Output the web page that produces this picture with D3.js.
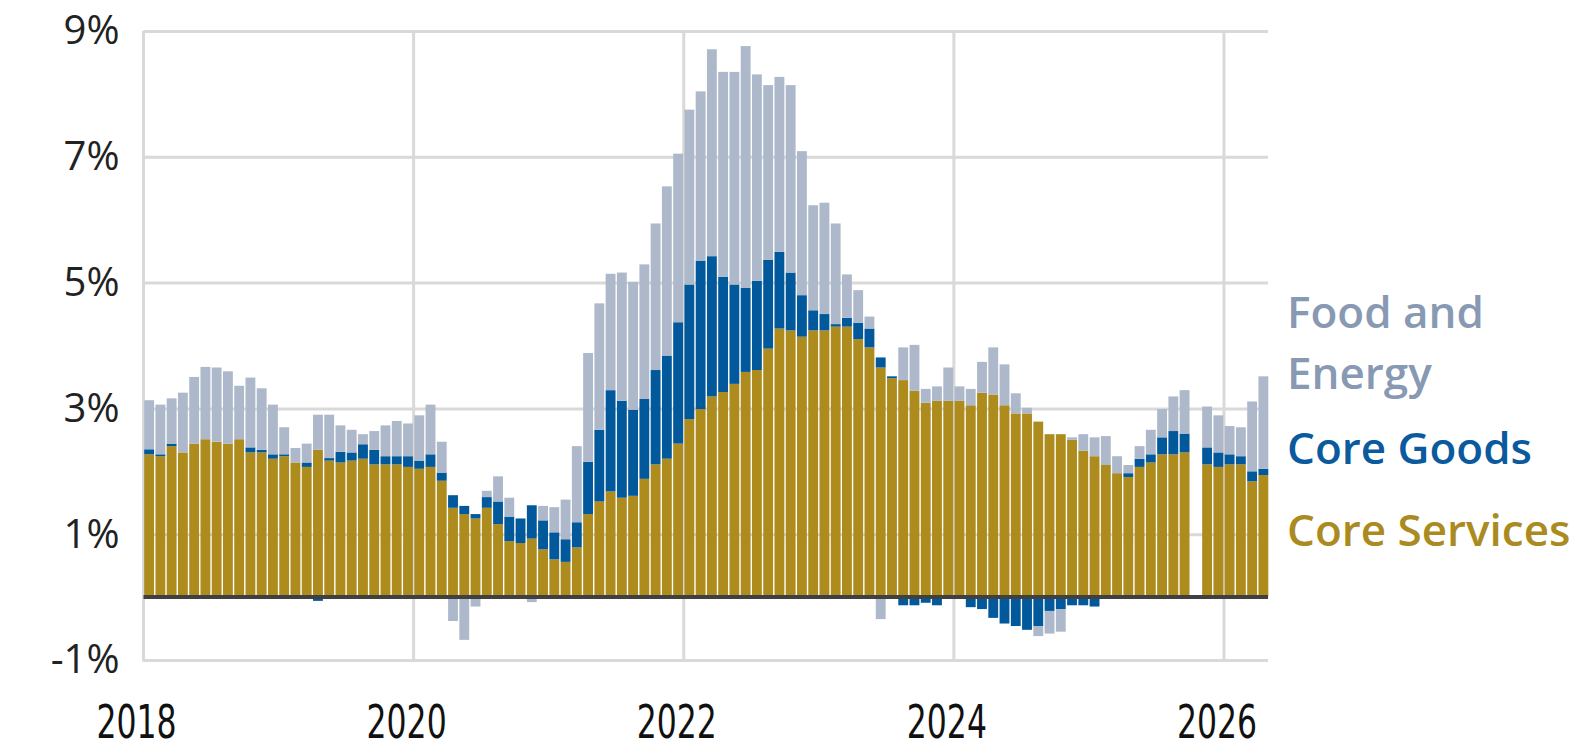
<!DOCTYPE html>
<html>
<head>
<meta charset="utf-8">
<script src="https://cdn.jsdelivr.net/npm/d3@7"></script>
<style>
  body { margin: 0; background: #fff; }
  svg { display: block; }
</style>
</head>
<body>
<div id="chart"></div>
<script>
// Contributions to y/y inflation, monthly from Jan 2018 (percentage points)
// Oct 2025 has no reading, so it is left empty
const services = [
  2.27, 2.24, 2.40, 2.30, 2.44, 2.51, 2.47, 2.44, 2.51, 2.30, 2.30, 2.20,
  2.24, 2.14, 2.07, 2.34, 2.17, 2.14, 2.17, 2.20, 2.11, 2.11, 2.11, 2.07,
  2.04, 2.07, 1.85, 1.42, 1.32, 1.25, 1.42, 1.16, 0.89, 0.86, 0.93, 0.76,
  0.60, 0.56, 0.79, 1.32, 1.52, 1.68, 1.58, 1.61, 1.88, 2.11, 2.20, 2.44,
  2.83, 2.99, 3.19, 3.26, 3.39, 3.58, 3.61, 3.95, 4.27, 4.24, 4.14, 4.24,
  4.24, 4.30, 4.30, 4.10, 3.97, 3.65, 3.48, 3.45, 3.28, 3.09, 3.12, 3.12,
  3.12, 3.05, 3.25, 3.22, 3.05, 2.92, 2.92, 2.79, 2.59, 2.59, 2.50, 2.33,
  2.24, 2.10, 1.97, 1.91, 2.07, 2.14, 2.27, 2.27, 2.30, null, 2.11, 2.07,
  2.11, 2.11, 1.84, 1.94
];
const goods = [
  0.08, 0.03, 0.04, 0, 0, 0, 0, 0, 0, 0.08, 0.04, 0.07,
  0.03, 0, 0.07, -0.06, 0.04, 0.17, 0.13, 0.23, 0.23, 0.13, 0.13, 0.17,
  0.13, 0.20, 0.13, 0.20, 0.13, 0.07, 0.17, 0.36, 0.39, 0.39, 0.53, 0.46,
  0.43, 0.36, 0.40, 0.83, 1.14, 1.61, 1.54, 1.37, 1.27, 1.50, 1.64, 1.93,
  2.14, 2.36, 2.23, 1.83, 1.58, 1.34, 1.42, 1.41, 1.22, 0.92, 0.66, 0.32,
  0.26, 0.04, 0.14, 0.26, 0.30, 0.16, 0.03, -0.13, -0.13, -0.09, -0.13, 0,
  0, -0.16, -0.19, -0.33, -0.42, -0.46, -0.52, -0.46, -0.22, -0.19, -0.13, -0.13,
  -0.15, 0, 0, 0.06, 0.13, 0.13, 0.27, 0.37, 0.30, null, 0.27, 0.23,
  0.16, 0.13, 0.16, 0.10
];
const foodEnergy = [
  0.78, 0.79, 0.72, 0.95, 1.06, 1.15, 1.18, 1.15, 0.85, 1.11, 0.98, 0.79,
  0.43, 0.23, 0.30, 0.56, 0.69, 0.42, 0.36, 0.16, 0.30, 0.49, 0.56, 0.52,
  0.72, 0.79, 0.49, -0.38, -0.68, -0.15, 0.10, 0.40, 0.30, 0, -0.08, 0.23,
  0.40, 0.63, 1.21, 1.73, 2.01, 1.85, 2.04, 2.03, 2.14, 2.33, 2.69, 2.68,
  2.78, 2.69, 3.29, 3.26, 3.38, 3.84, 3.28, 2.78, 2.78, 2.98, 2.29, 1.67,
  1.77, 1.60, 0.69, 0.52, 0.19, -0.35, 0, 0.52, 0.73, 0.22, 0.23, 0.53,
  0.23, 0.26, 0.49, 0.75, 0.65, 0.32, 0.09, -0.16, -0.36, -0.36, 0.04, 0.26,
  0.30, 0.46, 0.27, 0.13, 0.20, 0.39, 0.45, 0.55, 0.69, null, 0.65, 0.59,
  0.45, 0.46, 1.11, 1.47
];

const yTicks = [-1, 1, 3, 5, 7, 9];
const yearLabels = ["2018", "2020", "2022", "2024", "2026"];
const yearStarts = [0, 24, 48, 72, 96]; // month index of each labelled January
const seriesKeys = ["services", "goods", "foodEnergy"];
const seriesColors = ["#ad8b1d", "#01589b", "#adb9cb"];
const legendLines = [
  {text: "Food and", color: "#8799b3", y: 328},
  {text: "Energy", color: "#8799b3", y: 389},
  {text: "Core Goods", color: "#0b5a9d", y: 464},
  {text: "Core Services", color: "#ab8b1f", y: 546}
];

const w = 1583;
const h = 749;
const plotLeft = 143.5, plotRight = 1268, plotTop = 31, plotBottom = 660;

// one row per month, skip the missing one
const rows = services.map((s, i) => ({
  i: i, services: s, goods: goods[i], foodEnergy: foodEnergy[i]
})).filter(d => d.services != null);

const stack = d3.stack()
                .keys(seriesKeys)
                .offset(d3.stackOffsetDiverging);
const stacked = stack(rows);

const xScale = d3.scaleLinear()
                 .domain([0, 100])
                 .range([plotLeft, 1269]);
const yScale = d3.scaleLinear()
                 .domain([-1, 9])
                 .range([plotBottom, plotTop]);

const svg = d3.select("#chart")
              .append("svg")
              .attr("width", w)
              .attr("height", h);

// horizontal gridlines + y labels
const yAxis = d3.axisLeft(yScale)
                .tickValues(yTicks)
                .tickFormat(d => d + "%")
                .tickSize(-(plotRight - plotLeft))
                .tickPadding(24);
const gy = svg.append("g")
              .attr("transform", "translate(" + plotLeft + ",0)")
              .call(yAxis);
gy.select(".domain").remove();
gy.selectAll("line").attr("stroke", "#d9d9d9").attr("stroke-width", 3);
gy.selectAll("text")
  .attr("fill", "#222")
  .style("font-family", "'Open Sans', 'DejaVu Sans', sans-serif")
  .style("font-size", "40px");

// vertical gridlines at each labelled year
svg.append("g")
   .selectAll("line")
   .data(yearStarts)
   .enter()
   .append("line")
   .attr("x1", d => xScale(d))
   .attr("x2", d => xScale(d))
   .attr("y1", plotTop)
   .attr("y2", plotBottom + 1.5)
   .attr("stroke", "#d9d9d9")
   .attr("stroke-width", 3);

// stacked bars
const barW = xScale(1) - xScale(0) - 1.4;
svg.append("g")
   .selectAll("g")
   .data(stacked)
   .enter()
   .append("g")
   .attr("fill", (d, k) => seriesColors[k])
   .selectAll("rect")
   .data(d => d)
   .enter()
   .append("rect")
   .attr("x", d => xScale(d.data.i) + 0.7)
   .attr("width", barW)
   .attr("y", d => yScale(Math.max(d[0], d[1])))
   .attr("height", d => Math.abs(yScale(d[0]) - yScale(d[1])));

// zero line
svg.append("line")
   .attr("x1", plotLeft)
   .attr("x2", plotRight)
   .attr("y1", yScale(0))
   .attr("y2", yScale(0))
   .attr("stroke", "#404040")
   .attr("stroke-width", 4);

// year labels (narrow face, stretched taller like the original)
svg.append("g")
   .selectAll("text")
   .data(yearLabels)
   .enter()
   .append("text")
   .attr("transform", (d, k) => "translate(" + (xScale(yearStarts[k]) - 7) + "," + 738 + ") scale(1,1.3)")
   .attr("text-anchor", "middle")
   .attr("fill", "#111")
   .style("font-family", "'Liberation Sans Narrow', 'DejaVu Sans Condensed', sans-serif")
   .style("font-size", "35px")
   .text(d => d);

// legend on the right
svg.append("g")
   .selectAll("text")
   .data(legendLines)
   .enter()
   .append("text")
   .attr("x", 1287)
   .attr("y", d => d.y)
   .attr("fill", d => d.color)
   .style("font-family", "'Open Sans', sans-serif")
   .style("font-weight", 600)
   .style("font-size", "44px")
   .text(d => d.text);
</script>
</body>
</html>
